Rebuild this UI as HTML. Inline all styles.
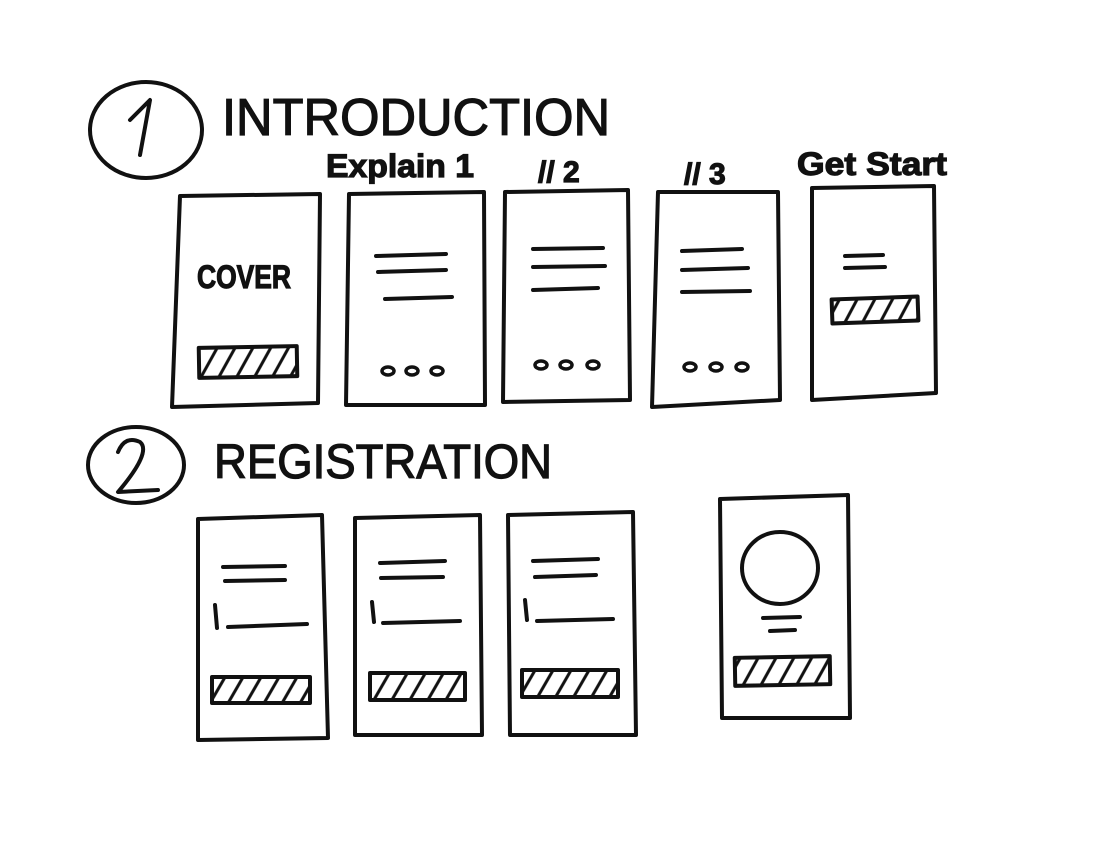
<!DOCTYPE html>
<html><head><meta charset="utf-8"><style>
html,body{margin:0;padding:0;background:#fff;}
svg{display:block}
text{font-family:"Liberation Sans",sans-serif;fill:#111;stroke:#111;stroke-width:1.2}
</style></head><body>
<svg width="1103" height="850" viewBox="0 0 1103 850" xmlns="http://www.w3.org/2000/svg">
<defs>
<pattern id="h" width="18" height="30" patternUnits="userSpaceOnUse" patternTransform="skewX(-30)">
<rect width="18" height="30" fill="#fff"/><line x1="4" y1="0" x2="4" y2="30" stroke="#111" stroke-width="3.5"/>
</pattern>
</defs>
<g fill="none" stroke="#111" stroke-width="4" stroke-linecap="round" stroke-linejoin="round">
<ellipse cx="146" cy="130" rx="56" ry="48"/>
<path d="M130 120 L150 100 L140 155"/>
<ellipse cx="136" cy="465" rx="48" ry="38"/>
<path d="M118 452 Q125 435 140 442 Q152 452 118 492 L158 490"/>

<path d="M180 196 L320 194 L318 403 L172 407 Z"/>
<path d="M349 194 L484 192 L485 405 L346 405 Z"/>
<path d="M505 192 L628 190 L630 400 L503 402 Z"/>
<path d="M658 192 L778 192 L780 400 L652 407 Z"/>
<path d="M812 188 L934 186 L936 393 L812 400 Z"/>

<path d="M376 256 L446 254 M378 272 L446 270 M385 299 L452 297"/>
<path d="M533 249 L603 248 M533 267 L605 266 M533 290 L598 288"/>
<path d="M682 251 L742 249 M682 270 L748 268 M682 292 L750 291"/>
<path d="M845 256 L883 255 M845 268 L885 267"/>
<g stroke-width="3.5">
<ellipse cx="388" cy="371" rx="6" ry="4"/><ellipse cx="412" cy="371" rx="6" ry="4"/><ellipse cx="437" cy="371" rx="6" ry="4"/>
<ellipse cx="541" cy="365" rx="6" ry="4"/><ellipse cx="566" cy="365" rx="6" ry="4"/><ellipse cx="593" cy="365" rx="6" ry="4"/>
<ellipse cx="690" cy="367" rx="6" ry="4"/><ellipse cx="716" cy="367" rx="6" ry="4"/><ellipse cx="742" cy="367" rx="6" ry="4"/>
</g>

<path d="M198 519 L322 515 L328 738 L198 740 Z"/>
<path d="M355 518 L480 515 L482 735 L355 735 Z"/>
<path d="M508 515 L633 512 L636 735 L510 735 Z"/>
<path d="M720 499 L848 495 L850 718 L722 718 Z"/>

<path d="M223 567 L285 566 M225 581 L285 580 M215 605 L217 628 M228 627 L307 624"/>
<path d="M380 563 L445 561 M381 578 L443 577 M372 602 L374 622 M383 623 L460 621"/>
<path d="M533 561 L598 559 M535 577 L596 575 M525 600 L527 620 M537 621 L613 619"/>
<ellipse cx="780" cy="568" rx="38" ry="36"/>
<path d="M763 618 L800 617 M770 631 L795 630"/>
</g>

<g stroke="#111" stroke-width="4" fill="url(#h)" stroke-linejoin="round">
<rect x="199" y="347" width="98" height="30" transform="rotate(-1 248 362)"/>
<rect x="832" y="298" width="86" height="24" transform="rotate(-2 875 310)"/>
<rect x="212" y="677" width="98" height="26"/>
<rect x="370" y="673" width="95" height="27"/>
<rect x="522" y="670" width="96" height="27"/>
<rect x="735" y="657" width="95" height="28" transform="rotate(-1 782 671)"/>
</g>

<text x="222" y="135" font-size="52" stroke-width="0.6" textLength="388" lengthAdjust="spacingAndGlyphs">INTRODUCTION</text>
<text x="214" y="478" font-size="48" stroke-width="0.6" textLength="338" lengthAdjust="spacingAndGlyphs">REGISTRATION</text>
<text x="326" y="177" font-size="32" font-weight="bold" textLength="148" lengthAdjust="spacingAndGlyphs">Explain 1</text>
<text x="538" y="182" font-size="30" font-weight="bold">// 2</text>
<text x="684" y="184" font-size="30" font-weight="bold">// 3</text>
<text x="797" y="175" font-size="32" font-weight="bold" textLength="150" lengthAdjust="spacingAndGlyphs">Get Start</text>
<text x="197" y="288" font-size="32" font-weight="bold" textLength="94" lengthAdjust="spacingAndGlyphs">COVER</text>
</svg>
</body></html>
